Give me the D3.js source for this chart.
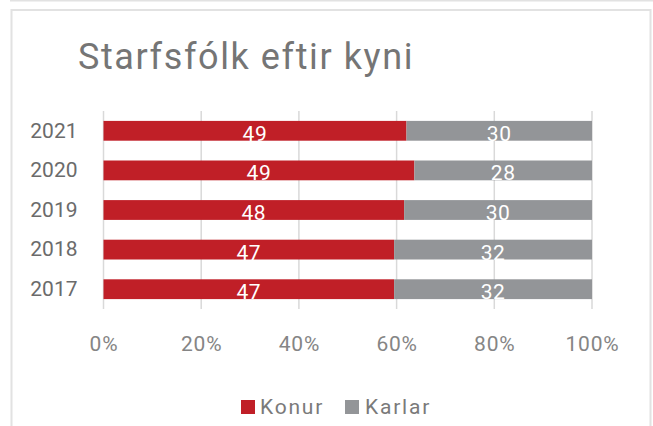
<!DOCTYPE html>
<html>
<head>
<meta charset="utf-8">
<script src="https://cdn.jsdelivr.net/npm/d3@7"></script>
<style>
  html, body { margin: 0; padding: 0; background: #fff; }
  svg { display: block; font-family: Roboto, "DejaVu Sans", sans-serif; }
</style>
</head>
<body>
<div id="chart"></div>
<script>
const years = ["2021", "2020", "2019", "2018", "2017"];
const konur = [49, 49, 48, 47, 47];
const karlar = [30, 28, 30, 32, 32];
const seriesNames = ["Konur", "Karlar"];
const xTicks = [0, 0.2, 0.4, 0.6, 0.8, 1];

const width = 653;
const height = 426;
const plotLeft = 103.5;
const plotRight = 592;
const plotTop = 111;
const plotBottom = 309;

const colors = { Konur: "#c01f27", Karlar: "#939598" };

const svg = d3.select("#chart").append("svg")
    .attr("width", width)
    .attr("height", height);

// frame
svg.append("line")
    .attr("x1", 10).attr("x2", width).attr("y1", 0.5).attr("y2", 0.5)
    .style("stroke", "#e2e2e2").style("stroke-width", 2);
svg.append("path")
    .attr("d", `M11.5,${height} V10 H650.5 V${height}`)
    .style("fill", "none").style("stroke", "#e2e2e2").style("stroke-width", 2);

svg.append("text")
    .attr("x", 78)
    .attr("y", 69)
    .text("Starfsfólk eftir kyni")
    .style("font-size", "36px")
    .style("letter-spacing", "1.6px")
    .style("fill", "#757575");

const table = years.map((y, i) => ({ year: y, Konur: konur[i], Karlar: karlar[i] }));
const stacked = d3.stack().keys(seriesNames).offset(d3.stackOffsetExpand)(table);

const x = d3.scaleLinear().domain([0, 1]).range([plotLeft, plotRight]);
const y = d3.scaleBand().domain(years).range([plotTop, plotBottom]).paddingInner(0.5).paddingOuter(0.25);

// gridlines
svg.append("g")
    .selectAll("line")
    .data(xTicks)
    .enter().append("line")
    .attr("x1", d => x(d)).attr("x2", d => x(d))
    .attr("y1", plotTop).attr("y2", plotBottom)
    .style("stroke", "#d9d9d9")
    .style("stroke-width", 1.5);

// x axis labels
const xAxis = svg.append("g")
    .attr("transform", `translate(0,${plotBottom})`)
    .call(d3.axisBottom(x).tickValues(xTicks).tickFormat(d3.format(".0%")).tickSize(0).tickPadding(27));
xAxis.select(".domain").remove();
xAxis.selectAll("text")
    .style("font-size", "21px")
    .style("letter-spacing", "0.8px")
    .style("font-family", "Roboto, sans-serif")
    .style("fill", "#858585");

// y axis labels
const yAxis = svg.append("g")
    .attr("transform", `translate(${plotLeft},0)`)
    .call(d3.axisLeft(y).tickSize(0).tickPadding(26));
yAxis.select(".domain").remove();
yAxis.selectAll("text")
    .style("font-size", "21px")
    .style("font-family", "Roboto, sans-serif")
    .style("fill", "#6b6b6b");

// bars
const groups = svg.selectAll(".series")
    .data(stacked)
    .enter().append("g")
    .attr("class", "series")
    .style("fill", d => colors[d.key]);

groups.selectAll("rect")
    .data(d => d)
    .enter().append("rect")
    .attr("x", d => x(d[0]))
    .attr("y", d => y(d.data.year))
    .attr("width", d => x(d[1]) - x(d[0]))
    .attr("height", y.bandwidth());

// value labels
stacked.forEach(s => {
    svg.append("g")
        .selectAll("text")
        .data(s)
        .enter().append("text")
        .attr("x", d => (x(d[0]) + x(d[1])) / 2)
        .attr("y", d => y(d.data.year) + y.bandwidth() / 2 + 10)
        .attr("text-anchor", "middle")
        .text(d => d.data[s.key])
        .style("font-size", "21px")
        .style("letter-spacing", "0.6px")
        .style("fill", "#ffffff");
});

// legend
const legendItems = [
    { name: "Konur", sx: 241, tx: 260 },
    { name: "Karlar", sx: 345, tx: 365 }
];
const legend = svg.append("g");
legend.selectAll("rect")
    .data(legendItems)
    .enter().append("rect")
    .attr("x", d => d.sx)
    .attr("y", 400)
    .attr("width", 14)
    .attr("height", 14)
    .style("fill", d => colors[d.name]);
legend.selectAll("text")
    .data(legendItems)
    .enter().append("text")
    .attr("x", d => d.tx)
    .attr("y", 414)
    .text(d => d.name)
    .style("font-size", "21px")
    .style("letter-spacing", "1.8px")
    .style("fill", "#7a7a7a");
</script>
</body>
</html>
